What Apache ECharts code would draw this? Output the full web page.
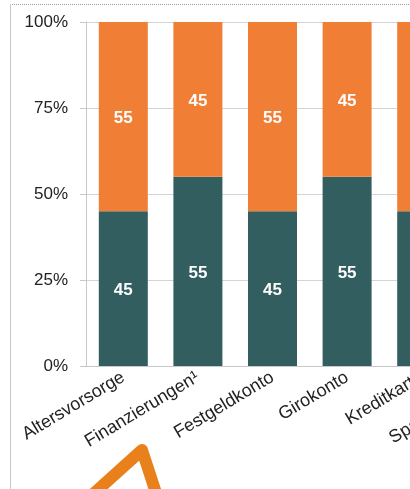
<!DOCTYPE html>
<html>
<head>
<meta charset="utf-8">
<script src="https://cdn.jsdelivr.net/npm/echarts@6/dist/echarts.min.js"></script>
<style>
html,body{margin:0;padding:0;width:410px;height:489px;overflow:hidden;background:#fff;}
#chart{width:560px;height:489px;}
</style>
</head>
<body>
<div id="chart"></div>
<script>
const categories = ['Altersvorsorge', 'Finanzierungen¹', 'Festgeldkonto', 'Girokonto', 'Kreditkarte', 'Sparbuch/-brief'];
const tealValues = [45, 55, 45, 55, 45, 55];
const orangeValues = [55, 45, 55, 45, 55, 45];
const yTicks = [0, 25, 50, 75, 100];

const chart = echarts.init(document.getElementById('chart'), null, {renderer: 'canvas'});
const font = 'Liberation Sans, Arial, sans-serif';
const labelStyle = {show: true, position: 'inside', offset: [0, 2], color: '#fff', fontWeight: 'bold', fontSize: 17, fontFamily: font};
chart.setOption({
  animation: false,
  grid: {left: 86, top: 22, bottom: 123, width: 74.6 * categories.length, containLabel: false},
  xAxis: {
    type: 'category',
    data: categories,
    axisLine: {show: true, lineStyle: {color: '#c8c8c8', width: 1}},
    axisTick: {show: false},
    axisLabel: {rotate: 31, color: '#222', fontSize: 18, margin: 10, interval: 0, fontFamily: font}
  },
  yAxis: {
    type: 'value',
    min: yTicks[0],
    max: yTicks[yTicks.length - 1],
    interval: 25,
    axisLine: {show: true, lineStyle: {color: '#c8c8c8', width: 1}},
    axisTick: {show: true, length: 6, lineStyle: {color: '#c8c8c8'}},
    splitLine: {show: true, lineStyle: {color: '#d4d4d4', width: 1}},
    axisLabel: {formatter: '{value}%', color: '#222', fontSize: 17, margin: 18, fontFamily: font}
  },
  series: [
    {type: 'bar', stack: 'a', data: tealValues, barWidth: 49, itemStyle: {color: '#325E60'}, label: labelStyle},
    {type: 'bar', stack: 'a', data: orangeValues, barWidth: 49, itemStyle: {color: '#F07F35'}, label: labelStyle}
  ],
  graphic: [
    {type: 'line', shape: {x1: 10, y1: 4.5, x2: 560, y2: 4.5}, style: {stroke: '#9a9a9a', lineWidth: 1, lineDash: [1, 1]}},
    {type: 'line', shape: {x1: 10.5, y1: 4, x2: 10.5, y2: 489}, style: {stroke: '#c8c8c8', lineWidth: 1}},
    {type: 'polyline', shape: {points: [[91, 496], [142, 450], [157, 496]]}, style: {stroke: '#E8801B', lineWidth: 12, lineJoin: 'round', fill: null}}
  ]
});
</script>
</body>
</html>
